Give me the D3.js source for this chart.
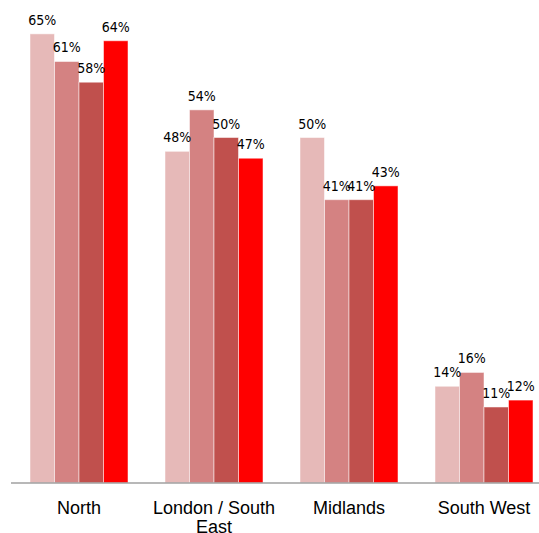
<!DOCTYPE html>
<html>
<head>
<meta charset="utf-8">
<script src="https://cdn.jsdelivr.net/npm/d3@7"></script>
<style>
  body { margin: 0; background: #fff; }
</style>
</head>
<body>
<script>
var SVG_WIDTH = 539;
var SVG_HEIGHT = 533;

// data
var regions = ["North", "London / South East", "Midlands", "South West"];
var series = ["s1", "s2", "s3", "s4"];
var seriesColors = ["#e6b9b8", "#d48282", "#c0504d", "#ff0000"];
var values = [
  [65, 61, 58, 64],
  [48, 54, 50, 47],
  [50, 41, 41, 43],
  [14, 16, 11, 12]
];

var baseline_y = 483;

var svg = d3.select("body").append("svg")
  .attr("width", SVG_WIDTH)
  .attr("height", SVG_HEIGHT);

// group scale
var x0 = d3.scaleBand()
  .domain(regions)
  .range([11.5, 551.5])
  .paddingInner(0.274)
  .paddingOuter(0.137);

var x1 = d3.scaleBand()
  .domain(series)
  .range([0, x0.bandwidth()]);

var y = d3.scaleLinear()
  .domain([0, 70])
  .range([baseline_y, baseline_y - 70 * 6.91]);

var groups = svg.selectAll("g.region")
  .data(regions).enter()
  .append("g")
    .attr("class", "region")
    .attr("transform", function (d) { return "translate(" + x0(d) + ",0)"; });

groups.selectAll("rect")
  .data(function (d, i) { return values[i]; }).enter()
  .append("rect")
    .attr("x", function (d, j) { return x1(series[j]); })
    .attr("y", function (d) { return y(d); })
    .attr("width", x1.bandwidth())
    .attr("height", function (d) { return y(0) - y(d); })
    .style("fill", function (d, j) { return seriesColors[j]; })
    .style("stroke", "rgba(255,255,255,0.5)")
    .style("stroke-width", 1);

// value labels
groups.selectAll("text.val")
  .data(function (d, i) { return values[i]; }).enter()
  .append("text")
    .attr("class", "val")
    .attr("x", function (d, j) { return x1(series[j]) + x1.bandwidth() / 2; })
    .attr("y", function (d) { return y(d) - 9; })
    .attr("text-anchor", "middle")
    .style("font-family", "'DejaVu Sans Condensed', 'DejaVu Sans'")
    .style("font-stretch", "condensed")
    .style("font-size", "14px")
    .style("fill", "#000")
    .text(function (d) { return d + "%"; });

// baseline
svg.append("line")
  .attr("x1", 11).attr("x2", SVG_WIDTH)
  .attr("y1", baseline_y).attr("y2", baseline_y)
  .style("stroke", "#a0a0a0")
  .style("stroke-width", 1.5);

// category labels, wrapped like the original
var catLines = {
  "North": ["North"],
  "London / South East": ["London / South", "East"],
  "Midlands": ["Midlands"],
  "South West": ["South West"]
};

var cat = svg.selectAll("text.cat")
  .data(regions).enter()
  .append("text")
    .attr("class", "cat")
    .attr("text-anchor", "middle")
    .attr("x", function (d) { return x0(d) + x0.bandwidth() / 2; })
    .attr("y", 514)
    .style("font-family", "Liberation Sans, Arial, sans-serif")
    .style("font-size", "18px")
    .style("fill", "#000");

cat.selectAll("tspan")
  .data(function (d) { return catLines[d]; }).enter()
  .append("tspan")
    .attr("x", function () { var p = d3.select(this.parentNode).datum(); return x0(p) + x0.bandwidth() / 2; })
    .attr("dy", function (d, i) { return i === 0 ? 0 : 19; })
    .text(function (d) { return d; });
</script>
</body>
</html>
